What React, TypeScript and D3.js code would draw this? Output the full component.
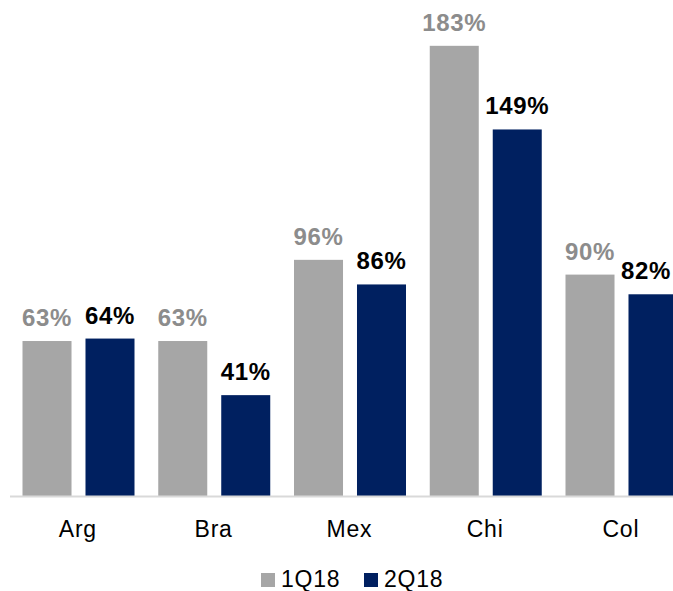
import React from "react";
import * as d3 from "d3";

const categories = ["Arg", "Bra", "Mex", "Chi", "Col"];
const seriesNames = ["1Q18", "2Q18"];
const values1Q18 = [63, 63, 96, 183, 90];
const values2Q18 = [64, 41, 86, 149, 82];

const W = 673;
const H = 591;
const barColors = ["#a6a6a6", "#002060"];
const labelColors = ["#8c8c8c", "#000000"];
const FONT = "'Liberation Sans', Arial, sans-serif";

export default function App() {
  const seriesValues = [values1Q18, values2Q18];
  const baseY = 496;
  const y = d3.scaleLinear().domain([0, 200]).range([baseY, 4]);
  const x0 = d3.scaleBand<string>().domain(categories).range([10, 688.75]).padding(0);
  const x1 = d3
    .scaleBand<string>()
    .domain(seriesNames)
    .range([12.5, 124.5])
    .paddingInner(0.222)
    .paddingOuter(0);

  return (
    <svg
      width={W}
      height={H}
      style={{ position: "absolute", left: 0, top: 0, display: "block", background: "#fff" }}
    >
      {categories.map((c, i) => (
        <g key={c} transform={`translate(${x0(c)},0)`}>
          {seriesNames.map((s, si) => {
            const v = seriesValues[si][i];
            const bx = x1(s)!;
            const bw = x1.bandwidth();
            const top = y(v);
            const ly = Math.max(top - 15, 31);
            const absRight = (x0(c) as number) + bx + bw / 2 + 26;
            const shift = absRight > W ? W - absRight - 1 : 0;
            return (
              <g key={s}>
                <rect x={bx} y={top} width={bw} height={baseY - top} fill={barColors[si]} />
                <text
                  x={bx + bw / 2 + shift}
                  y={ly}
                  textAnchor="middle"
                  fontFamily={FONT}
                  fontWeight="bold"
                  fontSize={24}
                  letterSpacing={0.6}
                  fill={labelColors[si]}
                >
                  {v}%
                </text>
              </g>
            );
          })}
          <text
            x={x0.bandwidth() / 2}
            y={537}
            textAnchor="middle"
            fontFamily={FONT}
            fontSize={23}
            letterSpacing={0.8}
            fill="#000"
          >
            {c}
          </text>
        </g>
      ))}
      <line x1={10} x2={W} y1={baseY + 0.5} y2={baseY + 0.5} stroke="#d9d9d9" strokeWidth={2} />
      {seriesNames.map((s, si) => {
        const lx = si === 0 ? 261 : 364;
        return (
          <g key={s}>
            <rect x={lx} y={573} width={14} height={14} fill={barColors[si]} />
            <text
              x={lx + 20}
              y={587}
              fontFamily={FONT}
              fontSize={23}
              letterSpacing={0.8}
              fill="#000"
            >
              {s}
            </text>
          </g>
        );
      })}
    </svg>
  );
}
